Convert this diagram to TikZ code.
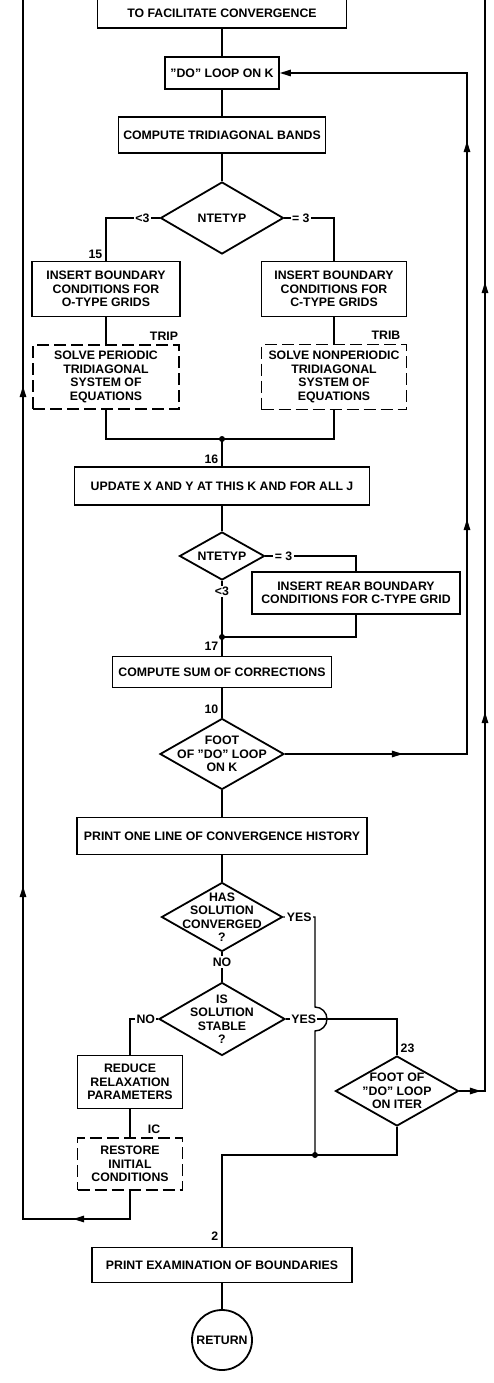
\documentclass[tikz,border=0pt]{standalone}
\usepackage{fontspec}
\setmainfont{Liberation Sans}
\usetikzlibrary{positioning,shapes.geometric,arrows.meta,decorations.markings}

\tikzset{
  flow/.tip={Triangle[length=11pt,width=6.5pt]},
  tipat/.style={postaction={decorate,decoration={markings,mark=at position #1 with {\arrow{flow}}}}}
}

\begin{document}
\begin{tikzpicture}[x=1pt,y=1pt,node distance=60pt,on grid,line width=1.4pt,
    font=\fontsize{12.3}{13.5}\selectfont\bfseries]
    \tikzset{box/.style={draw,rectangle,line width=1.8pt,inner sep=2pt,align=center},
             sub/.style={box,dash pattern=on 12pt off 5pt},
             decide/.style={draw,diamond,line width=1.8pt,inner sep=-40pt,align=center},
             lbl/.style={fill=white,inner sep=1.5pt},
             tag/.style={inner sep=3pt}}
    \useasboundingbox (0,0) rectangle (494,-1383);

    \node[box,minimum width=249pt,minimum height=30pt] (facil) at (222,-13) {TO FACILITATE CONVERGENCE};
    \node[box,minimum width=114pt,minimum height=32pt] (dok) [below = of facil] {"DO" LOOP ON K};
    \node[box,minimum width=207pt,minimum height=36pt] (bands) [below = 62pt of dok] {COMPUTE TRIDIAGONAL BANDS};
    \node[decide,minimum width=123pt,minimum height=72pt] (nte1) [below = 83pt of bands] {NTETYP};
    \node[box,minimum width=148pt,minimum height=55pt] (ot) [below left = 71pt and 116pt of nte1] {INSERT BOUNDARY\\CONDITIONS FOR\\O-TYPE GRIDS};
    \node[box,minimum width=145pt,minimum height=55pt] (ct) [below right = 71pt and 112pt of nte1] {INSERT BOUNDARY\\CONDITIONS FOR\\C-TYPE GRIDS};
    \node[sub,minimum width=146pt,minimum height=64pt,label={[tag,anchor=south,xshift=58pt]north:TRIP}] (trip) [below = 88pt of ot] {SOLVE PERIODIC\\TRIDIAGONAL\\SYSTEM OF\\EQUATIONS};
    \node[sub,minimum width=145pt,minimum height=65pt,label={[tag,anchor=south,xshift=52pt]north:TRIB}] (trib) [below = 88pt of ct] {SOLVE NONPERIODIC\\TRIDIAGONAL\\SYSTEM OF\\EQUATIONS};
    \coordinate[below = 221pt of nte1] (j16);
    \node[box,minimum width=295pt,minimum height=38pt] (update) [below = 268pt of nte1] {UPDATE X AND Y AT THIS K AND FOR ALL J};
    \node[decide,minimum width=85pt,minimum height=48pt] (nte2) [below = 70pt of update] {NTETYP};
    \node[box,minimum width=208pt,minimum height=42pt] (rear) [below right = 37pt and 134pt of nte2] {INSERT REAR BOUNDARY\\CONDITIONS FOR C-TYPE GRID};
    \coordinate[below = 81pt of nte2] (j17);
    \node[box,minimum width=219pt,minimum height=31pt] (sum) [below = 116pt of nte2] {COMPUTE SUM OF CORRECTIONS};
    \node[decide,minimum width=124pt,minimum height=71pt] (footK) [below = 82pt of sum] {FOOT\\OF "DO" LOOP\\ON K};
    \node[box,minimum width=290pt,minimum height=37pt] (print) [below = 82pt of footK] {PRINT ONE LINE OF CONVERGENCE HISTORY};
    \node[decide,minimum width=121pt,minimum height=69pt] (convd) [below = 81pt of print] {HAS\\SOLUTION\\CONVERGED\\?};
    \node[decide,minimum width=126pt,minimum height=73pt] (stable) [below = 102pt of convd] {IS\\SOLUTION\\STABLE\\?};
    \node[box,minimum width=105pt,minimum height=53pt] (reduce) [below left = 63pt and 92pt of stable] {REDUCE\\RELAXATION\\PARAMETERS};
    \node[sub,minimum width=105pt,minimum height=52pt,label={[tag,anchor=south,xshift=24pt]north:IC}] (restore) [below = 82pt of reduce] {RESTORE\\INITIAL\\CONDITIONS};
    \node[decide,minimum width=123pt,minimum height=70pt] (iter) [below right = 72pt and 175pt of stable] {FOOT OF\\"DO" LOOP\\ON ITER};
    \coordinate[below right = 136pt and 93pt of stable] (j2);
    \coordinate (hop) at (j2 |- stable.east);
    \node[box,minimum width=260pt,minimum height=35pt] (exam) [below = 246pt of stable] {PRINT EXAMINATION OF BOUNDARIES};
    \node[draw,circle,line width=1.8pt,minimum size=60pt,inner sep=0pt] (ret) [below = 75pt of exam] {RETURN};

    % loop lines at the sides
    \coordinate (lb) at (23,-1219);
    \coordinate (lt) at (23,5);
    \coordinate (rin) at (467,0);
    \coordinate (rout) at (485,5);

    \path (facil) edge (dok)
          (dok) edge (bands)
          (bands) edge (nte1)
          (ot) edge (trip)
          (ct) edge (trib)
          (j16) edge node[tag,left,pos=0.75] {16} (update)
          (update) edge (nte2)
          (nte2) edge node[lbl,pos=0.19] {<3} (j17)
          (j17) edge node[tag,left,pos=0.51] {17} (sum)
          (sum) edge node[tag,left,pos=0.73] {10} (footK)
          (footK) edge (print)
          (print) edge (convd)
          (convd) edge node[lbl,pos=0.34] {NO} (stable)
          (reduce) edge (restore)
          (exam) edge (ret);

    \draw (nte1.west) -| node[lbl,pos=0.16] {<3} node[tag,left,pos=0.925] {15} (ot.north);
    \draw (nte1.east) -| node[lbl,pos=0.165] {= 3} (ct.north);
    \draw (trip.south) |- (j16) -| (trib.south);
    \draw (nte2.east) -| node[lbl,pos=0.1] {= 3} (rear.north);
    \draw (rear.south) |- (j17);
    \draw (stable.west) -| node[lbl,pos=0.22] {NO} (reduce.north);
    \draw (stable.east) -| node[lbl,pos=0.08] {YES} node[tag,right,pos=0.905] {23} (iter.north);
    \draw (convd.east) -| node[lbl,pos=0.25] {YES} ([yshift=12pt]hop)
          arc[start angle=90,end angle=-90,radius=12pt] -- (j2);
    \draw (iter.south) |- (j2) -| node[tag,left,pos=0.943] {2} (exam.north);

    \draw[tipat=85pt,tipat=468pt,tipat=968pt] (restore.south) |- (lb) -- (lt);
    \draw[-{flow},tipat=118pt,tipat=417pt,tipat=795pt] (footK.east) -| (rin |- dok.east) -- (dok.east);
    \draw[tipat=21.5pt,tipat=404.5pt,tipat=834.5pt] (iter.east) -| (rout);

    \fill (j16) circle (3pt) (j17) circle (3pt) (j2) circle (3pt);
\end{tikzpicture}
\end{document}
